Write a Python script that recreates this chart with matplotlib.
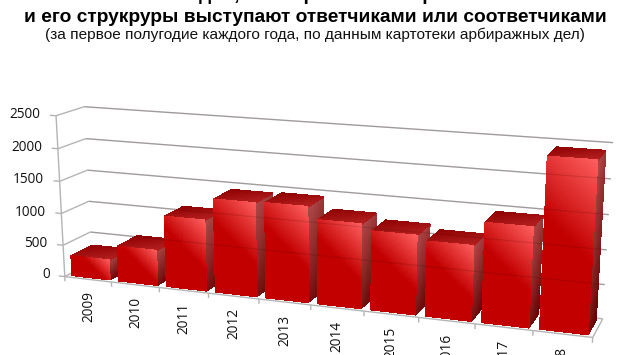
import numpy as np
import matplotlib
matplotlib.use("Agg")
import matplotlib.pyplot as plt
from matplotlib.transforms import IdentityTransform
from mpl_toolkits.mplot3d.art3d import Poly3DCollection, Line3DCollection

# ---- data ----
years = ["2009", "2010", "2011", "2012", "2013", "2014", "2015", "2016", "2017", "2018"]
cases = [310, 540, 1080, 1410, 1425, 1245, 1155, 1085, 1425, 2400]
value_ticks = [0, 500, 1000, 1500, 2000, 2500]
title_top = "Количество дел, в которых Минобороны России"
title_main = "и его струкруры выступают ответчиками или соответчиками"
subtitle = "(за первое полугодие каждого года, по данным картотеки арбиражных дел)"

W, H = 630, 355
fig = plt.figure(figsize=(W / 100, H / 100), dpi=100, facecolor="white")
ax = fig.add_axes([0, 0, 1, 1], projection="3d", computed_zorder=False)
ax.apply_aspect = lambda position=None: None
ax.set_axis_off()
ax.set_autoscale_on(False)

# ---- camera calibration: (category pos, depth, value) -> image pixel ----
calib = [
    (0, 0, 0, 65.7, 276.7), (0, 0, 500, 63.3, 245.7), (0, 0, 1000, 61.0, 213.3),
    (0, 0, 1500, 59.3, 181.0), (0, 0, 2000, 57.3, 148.3), (0, 0, 2500, 56.7, 115.7),
    (1, 0, 0, 111.7, 282.3), (2, 0, 0, 159.3, 287.3), (3, 0, 0, 208.3, 293.3),
    (4, 0, 0, 258.3, 299.0), (5, 0, 0, 310.0, 305.0), (6, 0, 0, 364.3, 311.7),
    (7, 0, 0, 419.0, 318.3), (8, 0, 0, 475.0, 324.0), (9, 0, 0, 533.3, 330.0),
    (10, 0, 0, 592.7, 336.7),
    (0, 1, 500, 90.0, 232.0), (0, 1, 1000, 88.7, 201.0), (0, 1, 1500, 87.3, 170.3),
    (0, 1, 2000, 86.0, 138.7), (0, 1, 2500, 84.3, 106.7),
    (10, 1, 0, 602.7, 318.3), (10, 1, 500, 605.0, 284.3), (10, 1, 1000, 606.7, 250.0),
    (10, 1, 1500, 609.0, 215.0), (10, 1, 2000, 611.0, 179.3), (10, 1, 2500, 612.7, 142.7),
]
Amat, bvec = [], []
for x, y, z, px, py in calib:
    dy = H - py
    z_ = z / 1000.0
    Amat.append([x, y, z_, 1, 0, 0, 0, 0, -px * x, -px * y, -px * z_]); bvec.append(px)
    Amat.append([0, 0, 0, 0, x, y, z_, 1, -dy * x, -dy * y, -dy * z_]); bvec.append(dy)
sol = np.linalg.lstsq(np.array(Amat, float), np.array(bvec, float), rcond=None)[0]
P = np.array([sol[:4], sol[4:8], [*sol[8:11], 1.0]])
P[:, 2] /= 1000.0


def project(x, y, z):
    u = P @ np.array([x, y, z, 1.0])
    return u[0] / u[2], u[1] / u[2]


def camera_proj():
    a_inv = np.linalg.inv(ax.transData.get_matrix())
    lift = np.array([[a_inv[0, 0], a_inv[0, 1], 0, a_inv[0, 2]],
                     [a_inv[1, 0], a_inv[1, 1], 0, a_inv[1, 2]],
                     [0, 0, 1, 0],
                     [0, 0, 0, 1]])
    full = np.array([P[0], P[1], [0, 1, 0, 0], P[2]])
    return lift @ full


ax.get_proj = camera_proj

# ---- walls, gridlines, ticks ----
GRID = "#b4b4b4"
segs = []
for v in value_ticks:
    segs.append([(-0.13, 0, v), (0, 0, v)])
    segs.append([(0, 0, v), (0, 1, v)])
    segs.append([(0, 1, v), (10, 1, v)])
segs.append([(0, 0, 0), (0, 0, 2500)])
segs.append([(0, 0, 0), (10, 0, 0)])
segs.append([(10, 0, 0), (10, 1, 0)])
for i in range(11):
    segs.append([(i, 0, 0), (i, 0, -75)])
grid_coll = Line3DCollection(segs, colors=GRID, linewidths=1.0)
grid_coll.set_zorder(1)
ax.add_collection3d(grid_coll, autolim=False)


def lerp(c0, c1, t):
    t = np.clip(t, 0, 1)
    return tuple(np.array(c0) * (1 - t) + np.array(c1) * t)


def rgb(h):
    return matplotlib.colors.to_rgb(h)


def add_face(corners, shade, zorder, nu=10, nv=14):
    """corners: a(u0,v0) b(u1,v0) c(u1,v1) d(u0,v1); shade(u, v) -> rgb"""
    a, b, c, d = [np.array(p, float) for p in corners]
    polys, cols = [], []
    for i in range(nu):
        for j in range(nv):
            pts = []
            for u, v in ((i / nu, j / nv), ((i + 1) / nu, j / nv),
                         ((i + 1) / nu, (j + 1) / nv), (i / nu, (j + 1) / nv)):
                pts.append((a * (1 - u) + b * u) * (1 - v) + (d * (1 - u) + c * u) * v)
            polys.append(pts)
            cols.append(shade((i + .5) / nu, (j + .5) / nv))
    coll = Poly3DCollection(polys, facecolors=cols, edgecolors=cols, linewidths=0.5,
                            antialiaseds=False, zsort="average")
    coll.set_zorder(zorder)
    ax.add_collection3d(coll, autolim=False)


# ---- bars ----
BAR_L, BAR_R = 0.09, 0.90
D0, D1 = 0.12, 0.90
for i, val in enumerate(cases):
    z0 = 10 + i * 5
    x0, x1 = i + BAR_L, i + BAR_R
    w_px = 40.0
    h_px = val * 0.068
    span = 0.47 * (w_px + h_px)

    def front_shade(u, v, w=w_px, h=h_px, s=span):
        dist = (1 - u) * w + v * h
        return lerp(rgb("#ff6060"), rgb("#c20000"), dist / s)

    def side_shade(u, v):
        return lerp(rgb("#b04a4a"), rgb("#640000"), 0.75 * v + 0.25 * u + 0.05 * (val < 800))

    def top_shade(u, v):
        return lerp(rgb("#b42020"), rgb("#8e0000"), 0.5 * (1 - u) + 0.5 * v)

    add_face([(x1, D0, val), (x1, D1, val), (x1, D1, 0), (x1, D0, 0)], side_shade, z0, nu=8, nv=36)
    add_face([(x0, D1, val), (x1, D1, val), (x1, D0, val), (x0, D0, val)],
             lambda u, v: top_shade(u, 1 - v), z0 + 1, nu=10, nv=8)
    add_face([(x0, D0, val), (x1, D0, val), (x1, D0, 0), (x0, D0, 0)], front_shade, z0 + 2, nu=30, nv=70)
    ax.plot([x0, x0, x1, x1], [D0] * 4, [0, val, val, 0], color="#f01414", lw=0.9, zorder=z0 + 3)

# faint gridlines seen through the translucent bars
over = Line3DCollection([[(0, 1, v), (10, 1, v)] for v in value_ticks[1:]],
                        colors="#300000", linewidths=0.9, alpha=0.14)
over.set_zorder(100)
ax.add_collection3d(over, autolim=False)

# ---- tick labels ----
label_font = dict(family="Open Sans", fontsize=9.8, color="#111111")
for v in value_ticks:
    px, py = project(-0.33, 0, v)
    ax.text2D(px, py, str(v), transform=IdentityTransform(), ha="right", va="center", **label_font)
for i, yr in enumerate(years):
    px, py = project(i + 0.5, 0, -190)
    ax.text2D(px, py, yr, transform=IdentityTransform(), ha="center", va="top", rotation=90, **label_font)

# ---- titles ----
fig.text(0.5, H / H, title_top, ha="center", va="baseline",
         family="Liberation Sans", fontweight="bold", fontsize=13.8, color="black")
fig.text(0.5, (H - 22) / H, title_main, ha="center", va="baseline",
         family="Liberation Sans", fontweight="bold", fontsize=13.8, color="black")
fig.text(0.5, (H - 39) / H, subtitle, ha="center", va="baseline",
         family="Liberation Sans", fontsize=11.05, color="#111111")

fig.savefig("out.png", dpi=100, facecolor="white")
